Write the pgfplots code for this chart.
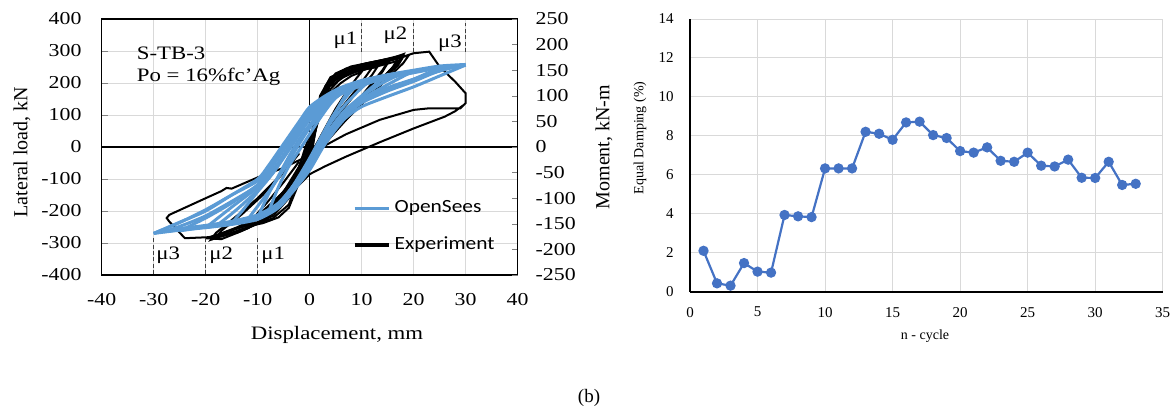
\documentclass[border=0pt]{standalone}
\usepackage{fontspec}
\setmainfont{Liberation Serif}
\newfontfamily\wideserif[FakeStretch=1.2]{Liberation Serif}
\newfontfamily\widecal[FakeStretch=1.15]{Carlito}
\usepackage{pgfplots}
\pgfplotsset{compat=1.18}
\definecolor{OSblue}{HTML}{5B9BD5}
\definecolor{XLblue}{HTML}{4472C4}
\definecolor{GridGray}{HTML}{D9D9D9}

\pgfplotsset{
  expline/.style={black, line width=1pt, forget plot},
  osline/.style={OSblue, line width=1.5pt, smooth, tension=0.45, forget plot},
  muline/.style={black!75, line width=0.6pt, dash pattern=on 2pt off 1.2pt, forget plot},
}

\begin{document}
\begin{tikzpicture}
\useasboundingbox (0pt,0pt) rectangle (588pt,207pt);

% ---------- left panel: hysteresis ----------
\begin{axis}[
  at={(50.85pt,69.5pt)}, anchor=south west, scale only axis,
  width=207.95pt, height=128pt,
  xmin=-40, xmax=40, ymin=-400, ymax=400,
  xtick distance=10, ytick distance=100,
  grid=major, grid style={GridGray, line width=0.4pt},
  axis line style={black, line width=0.75pt},
  tick align=inside, ytick pos=left, xtick style={draw=none},
  major tick length=3pt,
  /pgf/number format/assume math mode=true,
  ticklabel style={font=\wideserif\fontsize{9.1}{10}\selectfont},
  yticklabel style={xshift=-6.6pt},
  xticklabel style={yshift=-5.8pt},
  extra x ticks={0}, extra x tick labels={},
  extra y ticks={0}, extra y tick labels={},
  extra tick style={grid=major, grid style={black, line width=0.6pt}, major tick length=0pt},
  legend style={at={(axis cs:8.2,-249.5)}, anchor=west, draw=none, fill=none,
    inner sep=0pt, row sep=6.5pt,
    font=\widecal\fontsize{9.3}{11}\selectfont},
  legend cell align=left,
  legend image code/.code={\draw[#1] (0pt,0pt) -- (17pt,0pt);},
]
% experiment loops
\addplot[expline] coordinates {(-8,-200) (-5,-150) (-2,-80) (0,0) (1,60) (2,110) (4,170) (6,200) (8,222) (10,235) (9,215) (7,170) (5,120) (3,60) (1,0) (-1,-40) (-3,-100) (-6,-170) (-8,-200)};
\addplot[expline] coordinates {(-10,-215) (-6,-175) (-3,-110) (0,-10) (2,100) (4,180) (6,215) (9,236) (12,248) (11,225) (9,180) (6,120) (3,50) (1,0) (-2,-60) (-5,-140) (-8,-195) (-10,-215)};
\addplot[expline] coordinates {(-13,-240) (-9,-215) (-5,-160) (-2,-90) (0,-20) (2,110) (4,195) (6,225) (10,247) (13,258) (15,265) (14,240) (11,180) (8,120) (5,60) (2,0) (-1,-60) (-5,-150) (-9,-210) (-13,-240)};
\addplot[expline] coordinates {(-17,-270) (-12,-245) (-7,-195) (-3,-120) (0,-40) (2,120) (4,205) (7,240) (10,258) (14,272) (18,288) (17,262) (14,215) (10,150) (6,80) (3,20) (0,-50) (-4,-140) (-9,-215) (-14,-255) (-17,-270)};
\addplot[expline] coordinates {(-20,-285) (-17,-288) (-13,-262) (-8,-222) (-4,-150) (-1,-60) (1,70) (3,190) (5,230) (8,252) (12,265) (16,278) (19,285) (18,262) (15,215) (11,150) (7,85) (4,35) (1,-20) (-3,-100) (-8,-195) (-13,-245) (-17,-270) (-20,-285)};
\addplot[expline] coordinates {(-18,-280) (-14,-268) (-10,-240) (-6,-195) (-3,-130) (0,-60) (2,140) (4,215) (7,245) (11,262) (15,275) (18,282) (17,255) (13,195) (9,130) (5,60) (2,10) (-1,-50) (-5,-140) (-10,-215) (-15,-262) (-18,-280)};
\addplot[expline] coordinates {(0,-20) (2,130) (4,200) (7,228) (10,240) (13,252) (16,265) (17,270) (16,245) (13,195) (10,140) (7,85) (4,30) (1,-30)};
\addplot[expline] coordinates {(0,-30) (2,150) (4,210) (7,235) (10,250) (14,265) (17,278) (16,250) (12,180) (8,110) (4,40) (1,-20)};
\addplot[expline] coordinates {(0,-40) (2,160) (4,218) (7,242) (11,258) (15,272) (18,290) (17,265) (13,200) (9,130) (5,60) (2,0)};
\addplot[expline] coordinates {(0,-10) (1.5,100) (3,180) (5,215) (8,232) (11,244) (13,250) (12,225) (9,170) (6,110) (3,50) (1,0)};
\addplot[expline] coordinates {(-2,-60) (0,20) (2,150) (3.5,200) (6,228) (9,242) (12,253) (15,262) (14,235) (11,175) (8,115) (4,45) (1,-10)};
\addplot[expline] coordinates {(0,40) (-2,-60) (-4,-160) (-7,-215) (-10,-235) (-13,-250) (-16,-265) (-18,-282) (-17,-262) (-13,-210) (-9,-150) (-5,-80) (-2,-20)};
\addplot[expline] coordinates {(0,20) (-2,-90) (-4,-180) (-7,-222) (-10,-240) (-14,-262) (-19,-290) (-18,-268) (-14,-215) (-10,-160) (-6,-95) (-3,-40)};
\addplot[expline] coordinates {(0,0) (-2,-110) (-4,-190) (-6,-220) (-9,-238) (-12,-248) (-11,-225) (-8,-170) (-5,-110) (-2,-45)};
\addplot[expline] coordinates {(4,190) (8,235) (12,255) (16,272) (20,293) (23,298) (25,251) (28,204) (30,168) (30,137) (29,121) (23,121) (20,116) (13.5,85) (7,40) (3,5) (0,-25) (-5,-65) (-10,-95) (-15,-130) (-16,-128) (-17,-138) (-20,-160) (-27,-212) (-27.5,-222) (-27,-233) (-24,-285) (-19.7,-282) (-17,-280) (-12,-255) (-8,-215) (-4,-150) (0,-85) (3,-60) (7,-30) (13.5,15) (20,58) (26,95) (28,112) (29.5,130)};
% OpenSees loops
\addplot[osline] coordinates {(-30,-270) (-25,-260) (-20,-252) (-15,-242) (-10,-226) (-6,-190) (-3,-135) (0,-72) (2.6,0) (5,55) (7,92) (10,126) (15,158) (20,188) (25,222) (30,256)};
\addplot[osline] coordinates {(30,256) (25,250) (20,236) (15,222) (10,204) (6,182) (3,155) (0,118) (-2,72) (-5,0) (-8,-68) (-10,-106) (-15,-150) (-20,-196) (-25,-236) (-30,-270)};
\addplot[osline] coordinates {(-30,-270) (-25,-255) (-20,-245) (-15,-232) (-10,-212) (-6,-175) (-3,-118) (0,-50) (2,5) (5,75) (7,108) (10,145) (15,185) (20,212) (25,238) (30,258)};
\addplot[osline] coordinates {(30,258) (25,253) (20,240) (15,226) (10,208) (6,186) (3,160) (0,125) (-2,80) (-5,10) (-8,-60) (-10,-100) (-15,-150) (-20,-200) (-25,-235) (-30,-270)};
\addplot[osline] coordinates {(-28,-265) (-24,-256) (-20,-248) (-15,-236) (-10,-218) (-6,-180) (-3,-122) (0,-60) (2.3,0) (5,65) (7,100) (10,138) (15,175) (20,205) (24,232) (28,252)};
\addplot[osline] coordinates {(28,252) (24,244) (20,232) (15,215) (10,196) (6,172) (3,142) (0,100) (-2,55) (-4.6,0) (-8,-80) (-10,-120) (-15,-170) (-20,-215) (-24,-242) (-28,-265)};
\addplot[osline] coordinates {(-25,-262) (-20,-250) (-15,-238) (-10,-220) (-6,-184) (-3,-126) (0,-62) (2.4,0) (5,62) (7,100) (10,140) (15,180) (20,212) (25,248)};
\addplot[osline] coordinates {(25,248) (20,236) (15,220) (10,200) (6,178) (3,150) (0,110) (-2,65) (-4.8,0) (-8,-75) (-10,-118) (-15,-175) (-20,-222) (-25,-262)};
\addplot[osline] coordinates {(-20,-252) (-15,-238) (-10,-220) (-6,-185) (-3,-125) (0,-55) (2,0) (5,70) (7,110) (10,150) (15,195) (20,238)};
\addplot[osline] coordinates {(20,238) (15,220) (10,198) (6,172) (3,140) (0,95) (-2,50) (-4,0) (-7,-70) (-10,-125) (-15,-188) (-20,-252)};
\addplot[osline] coordinates {(-18,-247) (-14,-234) (-10,-214) (-6,-178) (-3,-118) (0,-45) (2,10) (5,80) (7,118) (10,158) (14,200) (18,232)};
\addplot[osline] coordinates {(18,232) (14,214) (10,192) (6,165) (3,130) (0,85) (-2,40) (-4,-10) (-7,-80) (-10,-135) (-14,-195) (-18,-247)};
\addplot[osline] coordinates {(-15,-238) (-12,-228) (-9,-208) (-6,-180) (-3,-122) (0,-50) (2,5) (5,75) (7,115) (10,160) (13,200) (15,222)};
\addplot[osline] coordinates {(15,222) (12,205) (9,188) (6,168) (3,135) (0,90) (-2,45) (-4,-5) (-7,-80) (-10,-140) (-13,-200) (-15,-238)};
\addplot[osline] coordinates {(-12,-228) (-9,-210) (-6,-178) (-3,-120) (0,-45) (2,15) (4,75) (7,135) (10,185) (12,212)};
\addplot[osline] coordinates {(12,212) (10,200) (7,178) (4,140) (2,100) (0,60) (-2,10) (-4,-45) (-7,-120) (-10,-185) (-12,-228)};
\addplot[osline] coordinates {(-10,-220) (-7,-192) (-4,-140) (-2,-90) (0,-35) (2,25) (4,85) (6,135) (8,175) (10,205)};
\addplot[osline] coordinates {(10,205) (8,190) (6,168) (3,125) (0,70) (-2,25) (-4,-30) (-6,-90) (-8,-150) (-10,-220)};
\addplot[osline] coordinates {(-8,-206) (-6,-182) (-4,-145) (-2,-95) (0,-40) (2,20) (4,80) (6,138) (8,192)};
\addplot[osline] coordinates {(8,192) (6,170) (4,135) (2,90) (0,40) (-2,-10) (-4,-60) (-6,-125) (-8,-206)};
% ductility markers
\addplot[muline] coordinates {(10,297) (10,388)};
\addplot[muline] coordinates {(20,297) (20,388)};
\addplot[muline] coordinates {(30,297) (30,388)};
\addplot[muline] coordinates {(-10,-285) (-10,-400)};
\addplot[muline] coordinates {(-20,-285) (-20,-400)};
\addplot[muline] coordinates {(-30,-285) (-30,-400)};
\begin{scope}[font=\wideserif\fontsize{9.5}{11}\selectfont]
\node at (axis cs:6.9,334) {μ1};
\node at (axis cs:16.5,348) {μ2};
\node at (axis cs:27,323) {μ3};
\node at (axis cs:-27.2,-337) {μ3};
\node at (axis cs:-17,-337) {μ2};
\node at (axis cs:-7,-337) {μ1};
\node[anchor=west, inner sep=0pt] at (axis cs:-33.3,294) {S-TB-3};
\node[anchor=west, inner sep=0pt] at (axis cs:-33.3,219) {Po = 16\%fc’Ag};
\end{scope}
\addlegendimage{OSblue, line width=1.5pt}
\addlegendentry{OpenSees}
\addlegendimage{black, line width=2pt}
\addlegendentry{Experiment}
\end{axis}

% right-hand moment axis
\begin{axis}[
  at={(50.85pt,69.5pt)}, anchor=south west, scale only axis,
  width=207.95pt, height=128pt,
  xmin=-40, xmax=40, ymin=-250, ymax=250,
  axis x line=none, axis y line*=right,
  axis line style={black, line width=0.75pt, -},
  ytick distance=50, tick align=inside, major tick length=3pt,
  /pgf/number format/assume math mode=true,
  yticklabel style={font=\wideserif\fontsize{9.1}{10}\selectfont, anchor=west, xshift=5.5pt},
]
\addplot[draw=none, forget plot] coordinates {(0,0)};
\end{axis}

\node[rotate=90, font=\fontsize{10}{12}\selectfont] at (11pt,131pt) {Lateral load, kN};
\node[rotate=90, font=\fontsize{10}{12}\selectfont] at (302pt,133.5pt) {Moment, kN-m};
\node[font=\wideserif\fontsize{9.5}{11}\selectfont] at (168.5pt,39.5pt) {Displacement, mm};

% ---------- right panel: equivalent damping ----------
\begin{axis}[
  at={(345pt,61.15pt)}, anchor=south west, scale only axis,
  width=236.35pt, height=136.35pt,
  xmin=0, xmax=35, ymin=0, ymax=14,
  xtick distance=5, ytick distance=2,
  grid=major, grid style={GridGray, line width=0.5pt},
  axis x line*=bottom, axis y line*=left,
  axis line style={black, line width=0.9pt, -},
  tick style={draw=none},
  /pgf/number format/assume math mode=true,
  ticklabel style={font=\fontsize{7.5}{9}\selectfont},
  yticklabel style={xshift=-4.6pt},
  xticklabel style={yshift=-4.2pt},
]
\addplot[XLblue, line width=1.1pt, mark=*, mark size=2pt,
  mark options={fill=XLblue, draw=XLblue}] coordinates {
  (1,2.10) (2,0.43) (3,0.31) (4,1.47) (5,1.03) (6,0.98) (7,3.94) (8,3.87)
  (9,3.83) (10,6.33) (11,6.33) (12,6.33) (13,8.21) (14,8.11) (15,7.80)
  (16,8.69) (17,8.73) (18,8.04) (19,7.89) (20,7.22) (21,7.14) (22,7.41)
  (23,6.72) (24,6.67) (25,7.14) (26,6.47) (27,6.43) (28,6.78) (29,5.85)
  (30,5.84) (31,6.67) (32,5.48) (33,5.54)};
\end{axis}

\node[rotate=90, font=\fontsize{7}{8}\selectfont] at (320pt,138pt) {Equal Damping (\%)};
\node[font=\fontsize{7}{8}\selectfont] at (462.5pt,39pt) {n - cycle};

\node[font=\fontsize{9.5}{11}\selectfont] at (294.5pt,8pt) {(b)};
\end{tikzpicture}
\end{document}
